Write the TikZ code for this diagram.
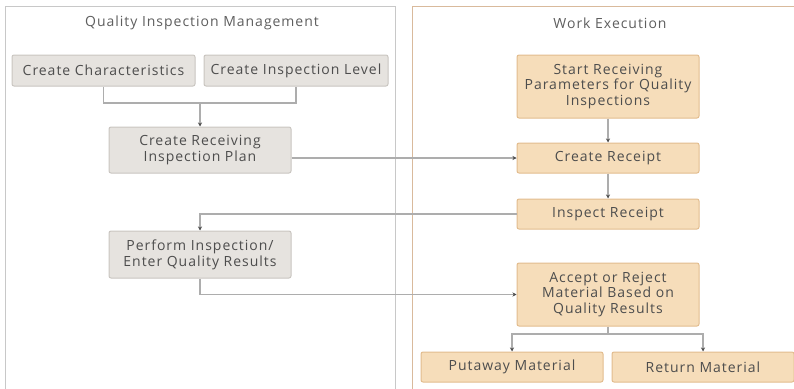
\documentclass[tikz,border=0pt]{standalone}
\usepackage{fontspec}
\setmainfont{Open Sans}
\newfontfamily\boxfont[LetterSpace=7]{Open Sans}
\usetikzlibrary{arrows.meta}
\definecolor{txt}{HTML}{4D4D4D}
\definecolor{ttl}{HTML}{5E5E5E}
\definecolor{gfill}{HTML}{E6E3DF}
\definecolor{gdraw}{HTML}{C9C5C0}
\definecolor{ofill}{HTML}{F6DDBA}
\definecolor{odraw}{HTML}{E2BC8E}
\definecolor{lane}{HTML}{C8C8C8}
\definecolor{olane}{HTML}{D9BA9C}
\definecolor{conn}{HTML}{ADADAD}
\tikzset{
  gbox/.style={draw=gdraw, fill=gfill, rounded corners=2pt, line width=1pt, text=txt, align=center, inner xsep=0pt, inner ysep=1pt,
    font=\boxfont\fontsize{14}{15.8}\selectfont},
  obox/.style={draw=odraw, fill=ofill, rounded corners=2pt, line width=1pt, text=txt, align=center, inner xsep=0pt, inner ysep=1pt,
    font=\boxfont\fontsize{14}{15.8}\selectfont},
  title/.style={text=ttl, font=\boxfont\fontsize{14}{15.8}\selectfont},
  conn/.style={draw=conn, line width=1.4pt},
  arr/.style={conn, -{Stealth[length=4pt,width=4pt,color=black!70]}}
}
\begin{document}
\begin{tikzpicture}[x=1pt,y=-1pt]
\useasboundingbox (0,0) rectangle (794,388);
% lanes
\draw[lane, line width=1pt] (5,390) -- (5,6) -- (395,6) -- (395,390);
\draw[olane, line width=1pt] (412,390) -- (412,6) -- (800,6);
\node[title] (t1) at (202,23) {Quality Inspection Management};
\node[title] (t2) at (610,23) {Work Execution};
% left boxes
\node[gbox, minimum width=183pt, minimum height=31pt] (cc) at (103.5,70.5) {Create Characteristics};
\node[gbox, minimum width=184pt, minimum height=31pt] (cil) at (296,70.5) {Create Inspection Level};
\node[gbox, minimum width=182pt, minimum height=46pt] (crip) at (200,150) {Create Receiving\\Inspection Plan};
\node[gbox, minimum width=182pt, minimum height=47pt] (pi) at (200,254.5) {Perform Inspection/\\Enter Quality Results};
% right boxes
\node[obox, minimum width=182pt, minimum height=63pt] (srp) at (608,86.5) {Start Receiving\\Parameters for Quality\\Inspections};
\node[obox, minimum width=182pt, minimum height=30pt] (cr) at (608,158) {Create Receipt};
\node[obox, minimum width=182pt, minimum height=30pt] (ir) at (608,214) {Inspect Receipt};
\node[obox, minimum width=182pt, minimum height=63pt] (ar) at (608,294.5) {Accept or Reject\\Material Based on\\Quality Results};
\node[obox, minimum width=182pt, minimum height=30pt] (pm) at (512,367) {Putaway Material};
\node[obox, minimum width=182pt, minimum height=30pt] (rm) at (703,367) {Return Material};
% connectors
\coordinate (j1) at (200,103);
\coordinate (j2) at (608,334);
\draw[conn] (cc.south) |- (j1) -| (cil.south);
\draw[arr] (j1) -- (crip.north);
\draw[arr] (crip.east |- cr.west) -- (cr.west);
\draw[arr] (srp.south) -- (cr.north);
\draw[arr] (cr.south) -- (ir.north);
\draw[arr] (ir.west) -| (pi.north);
\draw[arr] (pi.south) |- (ar.west);
\draw[conn] (ar.south) -- (j2);
\draw[arr] (j2) -| (pm.north);
\draw[arr] (j2) -| (rm.north);
\end{tikzpicture}
\end{document}
